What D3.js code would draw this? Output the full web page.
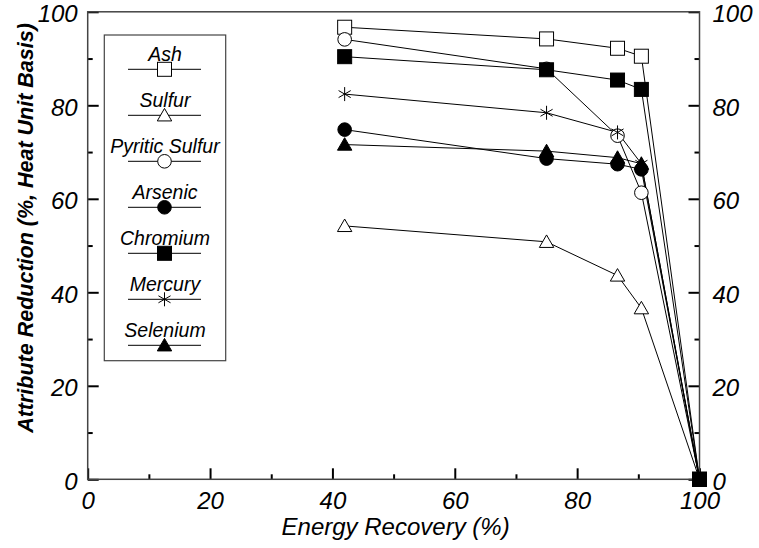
<!DOCTYPE html>
<html>
<head>
<meta charset="utf-8">
<script src="https://cdn.jsdelivr.net/npm/d3@7"></script>
<style>
  html, body { margin: 0; padding: 0; background: #fff; }
  svg { display: block; }
  text { font-family: "Liberation Sans", Arial, sans-serif; font-style: italic; fill: #000; }
</style>
</head>
<body>
<svg id="chart" width="759" height="548"></svg>
<script>
// ---------------- data ----------------
const energyRecovery = [42, 75, 86.6, 90.5, 100];
const seriesNames = ["Ash", "Sulfur", "Pyritic Sulfur", "Arsenic", "Chromium", "Mercury", "Selenium"];
const ash       = [96.7, 94.2, 92.2, 90.5, 0];
const sulfur    = [54.2, 50.8, 43.6, 36.6, 0];
const pyritic   = [94.1, 87.8, 73.5, 61.3, 0];
const arsenic   = [74.8, 68.6, 67.4, 66.3, 0];
const chromium  = [90.4, 87.6, 85.4, 83.4, 0];
const mercury   = [82.4, 78.4, 74.2, 67.5, 0];
const selenium  = [71.6, 70.2, 68.8, 67.5, 0];
const majorTicks = [0, 20, 40, 60, 80, 100];
const minorTicks = [10, 30, 50, 70, 90];
const xTitle = "Energy Recovery (%)";
const yTitle = "Attribute Reduction (%, Heat Unit Basis)";

const seriesValues = [ash, sulfur, pyritic, arsenic, chromium, mercury, selenium];
const markerTypes = ["openSquare", "openTriangle", "openCircle", "filledCircle", "filledSquare", "star", "filledTriangle"];

// ---------------- layout ----------------
const svg = d3.select("#chart");
const L = 87.7, R = 699.5, T = 11.8, B = 479.3;
const x = d3.scaleLinear().domain([0, 100]).range([L, R]);
const y = d3.scaleLinear().domain([0, 100]).range([B, T]);

const tickFont = 24;

function styleAxis(g) {
  g.select(".domain").remove();
  g.selectAll(".tick line").attr("stroke", "#000").attr("stroke-width", 2);
  g.selectAll(".tick text")
    .style("font-family", '"Liberation Sans", Arial, sans-serif')
    .style("font-style", "italic")
    .style("font-size", tickFont + "px")
    .attr("fill", "#000");
}

// minor ticks
svg.append("g").attr("transform", `translate(${L},0)`)
  .call(d3.axisLeft(y).tickValues(minorTicks).tickSize(-5).tickSizeOuter(0).tickFormat(""))
  .call(styleAxis);
svg.append("g").attr("transform", `translate(${R},0)`)
  .call(d3.axisRight(y).tickValues(minorTicks).tickSize(-5).tickSizeOuter(0).tickFormat(""))
  .call(styleAxis);
svg.append("g").attr("transform", `translate(0,${B})`)
  .call(d3.axisBottom(x).tickValues(minorTicks).tickSize(-5).tickSizeOuter(0).tickFormat(""))
  .call(styleAxis);

// major ticks + labels
const gl = svg.append("g").attr("transform", `translate(${L},0)`)
  .call(d3.axisLeft(y).tickValues(majorTicks).tickSize(-11).tickSizeOuter(0).tickPadding(10))
  .call(styleAxis);
gl.selectAll(".tick text").attr("dy", "0.42em");
const gr = svg.append("g").attr("transform", `translate(${R},0)`)
  .call(d3.axisRight(y).tickValues(majorTicks).tickSize(-11).tickSizeOuter(0).tickPadding(13))
  .call(styleAxis);
gr.selectAll(".tick text").attr("dy", "0.42em");
const gb = svg.append("g").attr("transform", `translate(0,${B})`)
  .call(d3.axisBottom(x).tickValues(majorTicks).tickSize(-11).tickSizeOuter(0).tickPadding(13))
  .call(styleAxis);

// frame
svg.append("rect")
  .attr("x", L).attr("y", T).attr("width", R - L).attr("height", B - T)
  .attr("fill", "none").attr("stroke", "#444").attr("stroke-width", 1.5);

// axis titles
svg.append("text")
  .attr("x", x(50) + 2).attr("y", 535)
  .attr("text-anchor", "middle")
  .style("font-size", "24px")
  .text(xTitle);
svg.append("text")
  .attr("transform", `translate(33,${228}) rotate(-90)`)
  .attr("text-anchor", "middle")
  .style("font-size", "21.5px").style("font-weight", "bold")
  .text(yTitle);

// ---------------- markers ----------------
function drawMarker(g, type, cx, cy) {
  const s = 7;
  if (type === "openSquare" || type === "filledSquare") {
    g.append("rect").attr("x", cx - s).attr("y", cy - s).attr("width", 2 * s).attr("height", 2 * s)
      .attr("fill", type === "filledSquare" ? "#000" : "#fff").attr("stroke", "#000").attr("stroke-width", 1);
  } else if (type === "openCircle" || type === "filledCircle") {
    g.append("circle").attr("cx", cx).attr("cy", cy).attr("r", 6.8)
      .attr("fill", type === "filledCircle" ? "#000" : "#fff").attr("stroke", "#000").attr("stroke-width", 1);
  } else if (type === "openTriangle" || type === "filledTriangle") {
    const h = 12.5, w = 7.2;
    g.append("path")
      .attr("d", `M${cx},${cy - h * 0.55}L${cx + w},${cy + h * 0.45}L${cx - w},${cy + h * 0.45}Z`)
      .attr("fill", type === "filledTriangle" ? "#000" : "#fff").attr("stroke", "#000").attr("stroke-width", 1);
  } else if (type === "star") {
    const r = 7;
    let d = "";
    [90, 30, 150].forEach(a => {
      const rad = a * Math.PI / 180;
      d += `M${cx - r * Math.cos(rad)},${cy - r * Math.sin(rad)}L${cx + r * Math.cos(rad)},${cy + r * Math.sin(rad)}`;
    });
    g.append("path").attr("d", d).attr("fill", "none").attr("stroke", "#000").attr("stroke-width", 1);
  }
}

// ---------------- series ----------------
const line = d3.line().x(d => x(d[0])).y(d => y(d[1]));
const plot = svg.append("g");
seriesValues.forEach((vals, i) => {
  const pts = vals.map((v, j) => [energyRecovery[j], v]);
  plot.append("path").datum(pts).attr("d", line)
    .attr("fill", "none").attr("stroke", "#000").attr("stroke-width", 1);
});
seriesValues.forEach((vals, i) => {
  const g = plot.append("g");
  vals.forEach((v, j) => drawMarker(g, markerTypes[i], x(energyRecovery[j]), y(v)));
});
// chromium square on top at the last point
{
  const g = plot.append("g");
  drawMarker(g, "filledSquare", x(energyRecovery[4]), y(chromium[4]));
}

// ---------------- legend ----------------
const lg = svg.append("g");
lg.append("rect").attr("x", 104.3).attr("y", 35).attr("width", 121.4).attr("height", 325.7)
  .attr("fill", "#fff").attr("stroke", "#444").attr("stroke-width", 1.2);
seriesNames.forEach((name, i) => {
  const ly = 69.3 + i * 46;
  lg.append("text").attr("x", 165).attr("y", ly - 8.3).attr("text-anchor", "middle")
    .style("font-size", "19.5px").text(name);
  lg.append("line").attr("x1", 128).attr("x2", 201).attr("y1", ly).attr("y2", ly)
    .attr("stroke", "#000").attr("stroke-width", 1);
  drawMarker(lg.append("g"), markerTypes[i], 164.5, ly);
});
</script>
</body>
</html>
